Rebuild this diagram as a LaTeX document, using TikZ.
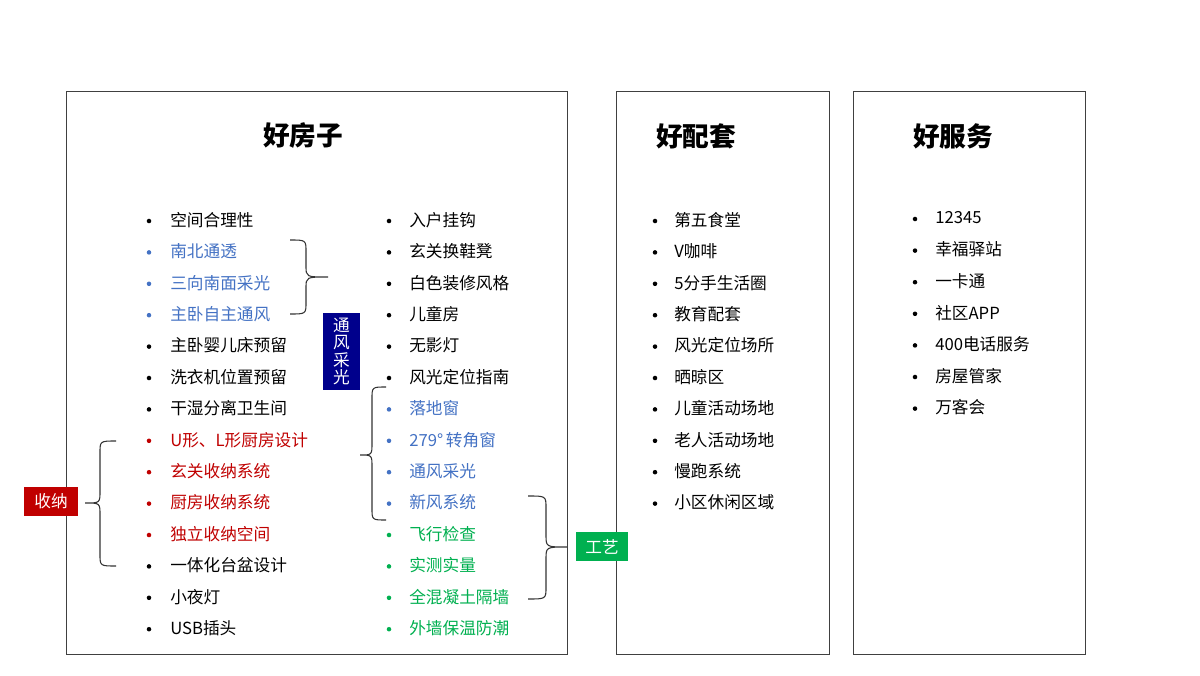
\documentclass[tikz,border=0pt]{standalone}
\usepackage{fontspec}
\setmainfont{Noto Sans CJK SC}
\begin{document}
\begin{tikzpicture}[x=0.75pt,y=-0.75pt,
 box/.style={draw=black!75,line width=0.6pt},
 itm/.style={anchor=west,inner sep=0pt,font=\fontsize{12.5}{14}\selectfont},
 dot/.style={circle,fill,inner sep=0pt,minimum size=3.4pt},
 ttl/.style={font=\fontsize{20}{24}\selectfont\bfseries},
 brc/.style={draw=black!80,line width=0.8pt},
 tag/.style={text=white,inner sep=0pt,font=\fontsize{12.5}{14}\selectfont}]
\definecolor{cb}{RGB}{68,114,196}
\definecolor{cr}{RGB}{192,0,0}
\definecolor{cg}{RGB}{0,176,80}
\definecolor{cn}{RGB}{0,0,140}
\useasboundingbox (0,0) rectangle (1200,675);
\fill[white] (0,0) rectangle (1200,675);
\draw[box] (66,91) rectangle (567,654);
\draw[box] (616,91) rectangle (829,654);
\draw[box] (853,91) rectangle (1085,654);
\node[ttl] (t1) at (303,136) {好房子};
\node[ttl] (t2) at (696,136) {好配套};
\node[ttl] (t3) at (953,136) {好服务};
\foreach \t/\c [count=\i from 0] in {空间合理性/black,南北通透/cb,三向南面采光/cb,主卧自主通风/cb,主卧婴儿床预留/black,洗衣机位置预留/black,干湿分离卫生间/black,U形、L形厨房设计/cr,玄关收纳系统/cr,厨房收纳系统/cr,独立收纳空间/cr,一体化台盆设计/black,小夜灯/black,USB插头/black}{
 \node[itm,text=\c] (a\i) at (170,220+31.4*\i) {\t};
 \node[dot,\c] at (149,221+31.4*\i) {};
}
\foreach \t/\c [count=\i from 0] in {入户挂钩/black,玄关换鞋凳/black,白色装修风格/black,儿童房/black,无影灯/black,风光定位指南/black,落地窗/cb,279°\,转角窗/cb,通风采光/cb,新风系统/cb,飞行检查/cg,实测实量/cg,全混凝土隔墙/cg,外墙保温防潮/cg}{
 \node[itm,text=\c] (b\i) at (409,220+31.4*\i) {\t};
 \node[dot,\c] at (389,221+31.4*\i) {};
}
\foreach \t [count=\i from 0] in {第五食堂,V咖啡,5分手生活圈,教育配套,风光定位场所,晒晾区,儿童活动场地,老人活动场地,慢跑系统,小区休闲区域}{
 \node[itm] (c\i) at (674,220+31.4*\i) {\t};
 \node[dot] at (655,221+31.4*\i) {};
}
\foreach \t [count=\i from 0] in {12345,幸福驿站,一卡通,社区APP,400电话服务,房屋管家,万客会}{
 \node[itm] (d\i) at (935,218+31.6*\i) {\t};
 \node[dot] at (915,219+31.6*\i) {};
}
\draw[brc] (290,240) .. controls (306,240) .. (306,252) -- (306,266) .. controls (306,277) .. (328,277) .. controls (306,277) .. (306,288) -- (306,302) .. controls (306,314) .. (290,314);
\draw[brc] (116,441) .. controls (100,441) .. (100,453) -- (100,491) .. controls (100,503) .. (85,503) .. controls (100,503) .. (100,515) -- (100,554) .. controls (100,566) .. (116,566);
\draw[brc] (386,387) .. controls (372,387) .. (372,399) -- (372,443) .. controls (372,455) .. (360,455) .. controls (372,455) .. (372,467) -- (372,508) .. controls (372,520) .. (386,520);
\draw[brc] (528,496) .. controls (546,496) .. (546,508) -- (546,535) .. controls (546,547) .. (567,547) .. controls (546,547) .. (546,559) -- (546,587) .. controls (546,599) .. (528,599);
\node[tag,fill=cn,minimum width=28pt,minimum height=58pt,align=center,font=\fontsize{12.5}{13.2}\selectfont] (tf) at (341.5,351.5) {通\\风\\采\\光};
\node[tag,fill=cr,minimum width=40pt,minimum height=22pt] (tn) at (51,501.5) {收纳};
\node[tag,fill=cg,minimum width=39pt,minimum height=22pt] (tg) at (602,546.5) {工艺};
\end{tikzpicture}
\end{document}
